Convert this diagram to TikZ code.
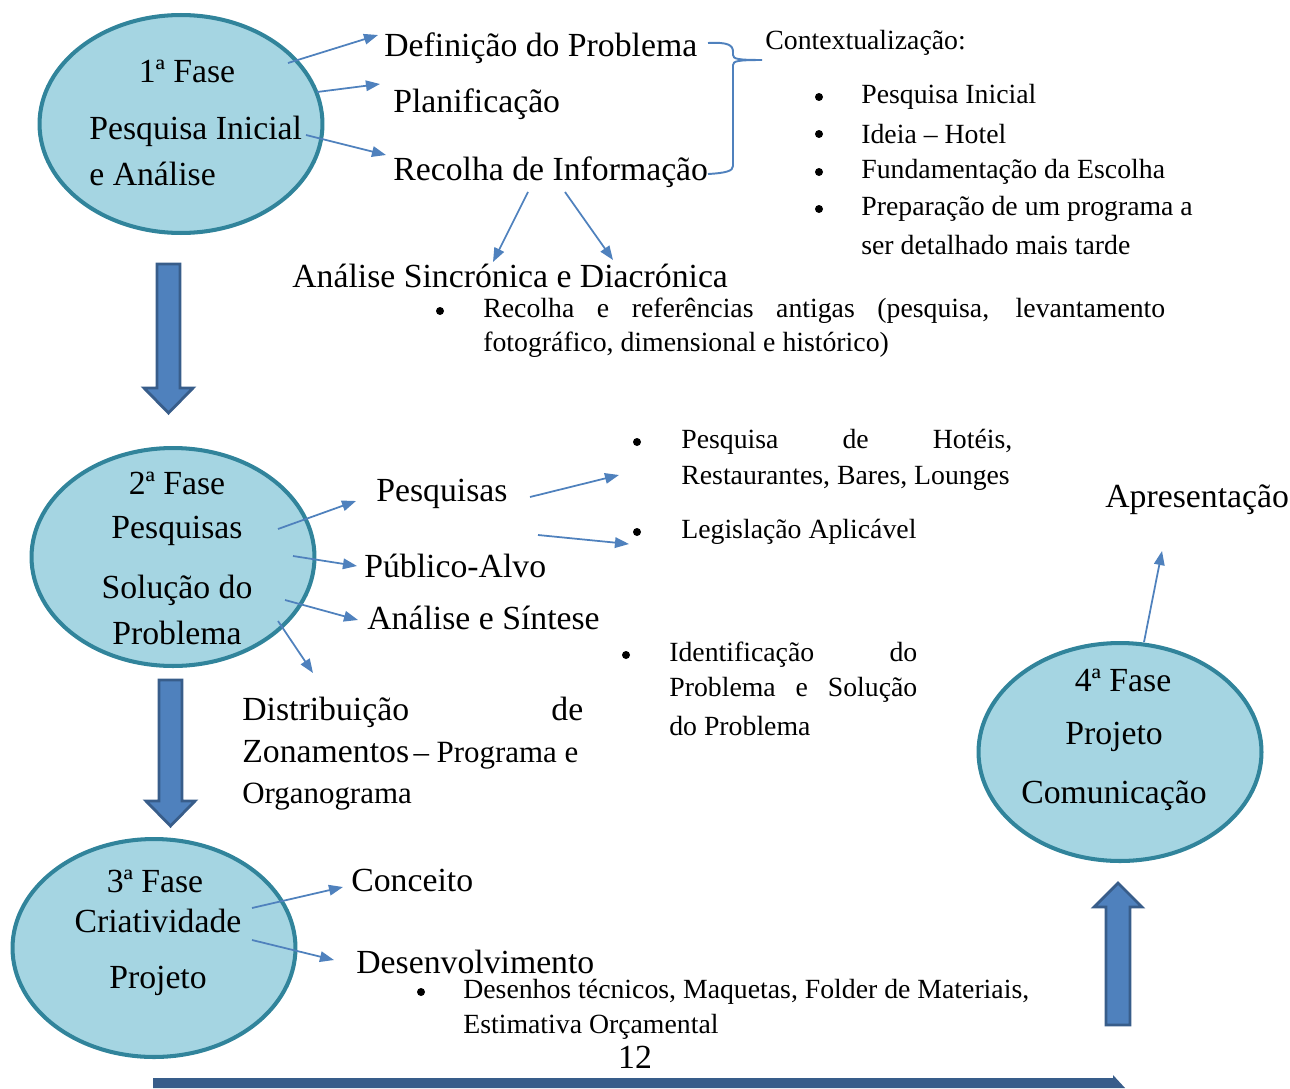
\documentclass[tikz,border=0pt]{standalone}
\usepackage{fontspec}
\setmainfont{Liberation Serif}
\usetikzlibrary{positioning,arrows.meta,calc,shapes.geometric}
\definecolor{fasefill}{HTML}{A5D5E2}
\definecolor{faseline}{HTML}{31849B}
\definecolor{linkblue}{HTML}{4F81BD}
\definecolor{blockline}{HTML}{385D8A}
\tikzset{
  fasebox/.style={ellipse, draw=faseline, fill=fasefill, line width=2.3pt, minimum width=5.66cm, minimum height=4.36cm},
  big/.style={font=\fontsize{19.2}{22}\selectfont, inner sep=0pt},
  sml/.style={font=\fontsize{15.8}{19}\selectfont, inner sep=0pt},
  mid/.style={font=\fontsize{17.6}{20}\selectfont, inner sep=0pt},
  dot/.style={circle, fill=black, inner sep=0pt, minimum size=0.16cm},
  link/.style={draw=linkblue, line width=1pt, -{Triangle[length=8pt,width=6pt]}},
  bigarrow/.style={draw=blockline, fill=linkblue, line width=1.6pt, line join=miter},
}
\begin{document}
\begin{tikzpicture}[x=0.02cm, y=-0.02cm]
\useasboundingbox (0,0) rectangle (1290,1088);
% fases
\node[fasebox] (fase1) at (181,124) {};
\node[fasebox] (fase2) at (173,557) {};
\node[fasebox] (fase3) at (154,948) {};
\node[fasebox] (fase4) at (1120,752) {};
\node[big] (f1t) at (187,71) {1ª Fase};
\node[big, anchor=west] (f1a) at (89,131) {Pesquisa Inicial};
\node[big, anchor=west] (f1b) at (89,174) {e Análise};
\node[big] (f2t) at (177,483) {2ª Fase};
\node[big] (f2a) at (177,531) {Pesquisas};
\node[big] (f2b) at (177,590) {Solução do};
\node[big] (f2c) at (177,633) {Problema};
\node[big] (f3t) at (155,881) {3ª Fase};
\node[big] (f3a) at (158,921) {Criatividade};
\node[big] (f3b) at (158,981) {Projeto};
\node[big] (f4t) at (1123,680) {4ª Fase};
\node[big] (f4a) at (1114,737) {Projeto};
\node[big] (f4b) at (1114,796) {Comunicação};
% setas grossas
\draw[bigarrow] (157,264) -- (180,264) -- (180,388) -- (193,388) -- (168.5,413) -- (144,388) -- (157,388) -- cycle;
\draw[bigarrow] (159,680) -- (182,680) -- (182,801) -- (195,801) -- (170.5,826) -- (146,801) -- (159,801) -- cycle;
\draw[bigarrow] (1106,1025) -- (1130,1025) -- (1130,907) -- (1142,907) -- (1118,883) -- (1094,907) -- (1106,907) -- cycle;
\fill[blockline] (153,1078) -- (1113,1078) -- (1113,1075) -- (1125,1088) -- (153,1088) -- cycle;
% 1a fase
\node[big, anchor=west] (def) at (384,48) {Definição do Problema};
\node[big, anchor=west] (plan) at (393,104) {Planificação};
\node[big, anchor=west] (recolha) at (393,172) {Recolha de Informação};
\coordinate (s1) at (288,63); \coordinate (e1) at (378,35);
\coordinate (s2) at (317,92); \coordinate (e2) at (380,84);
\coordinate (s3) at (306,135); \coordinate (e3) at (386,155);
\draw[link] (s1) -- (e1);
\draw[link] (s2) -- (e2);
\draw[link] (s3) -- (e3);
\draw[draw=linkblue, line width=1.1pt] (708,43) .. controls (728,42) and (733,45) .. (733,52) -- (733,55) .. controls (733,59) and (738,60) .. (762,60)
  .. controls (738,60) and (733,61) .. (733,65) -- (733,166) .. controls (733,171) and (726,173) .. (708,174);
\node[sml, anchor=west] (ctx) at (765,43) {Contextualização:};
\foreach \y/\txt [count=\i] in {97/Pesquisa Inicial, 134/Ideia – Hotel, 172/Fundamentação da Escolha, 209/Preparação de um programa a}{
  \node[dot] (cb\i) at (819,\y) {};
  \node[sml, anchor=west] (ct\i) at (861,\y) {\txt};
}
\node[sml, anchor=west] (ct5) at (861,245) {ser detalhado mais tarde};
\node[big, anchor=west] (sinc) at (292,276) {Análise Sincrónica e Diacrónica};
\coordinate (r1) at (528,192); \coordinate (r2) at (565,192);
\draw[link] (r1) -- (493,262);
\draw[link] (r2) -- (613,260);
\node[dot] (sb) at (440,311) {};
\node[sml, anchor=west] (st1) at (483,311) {\makebox[13.64cm][s]{Recolha e referências antigas (pesquisa, levantamento}};
\node[sml, anchor=west] (st2) at (483,345) {fotográfico, dimensional e histórico)};
% 2a fase
\node[big, anchor=west] (pesq) at (376,494) {Pesquisas};
\node[big, anchor=west] (pub) at (364,566) {Público-Alvo};
\node[big, anchor=west] (anal) at (367,618) {Análise e Síntese};
\coordinate (p1) at (278,529); \coordinate (p2) at (293,556);
\coordinate (p3) at (285,600); \coordinate (p4) at (278,621);
\draw[link] (p1) -- (356,501);
\draw[link] (p2) -- (357,566);
\draw[link] (p3) -- (358,620);
\draw[link] (p4) -- (313,673);
\node[big, anchor=west] (dist1) at (242,712) {\makebox[6.82cm][s]{Distribuição de}};
\node[anchor=west, inner sep=0pt] (dist2) at (242,755) {{\fontsize{19.2}{22}\selectfont Zonamentos} {\fontsize{17.6}{20}\selectfont – Programa e}};
\node[mid, anchor=west] (dist3) at (242,797) {Organograma};
\coordinate (q1) at (530,497); \coordinate (q2) at (538,535);
\draw[link] (q1) -- (619,475);
\draw[link] (q2) -- (629,544);
\node[dot] (hb1) at (637,442) {};
\node[sml, anchor=west] (ht1) at (681,442) {\makebox[6.62cm][s]{Pesquisa de Hotéis,}};
\node[sml, anchor=west] (ht2) at (681,478) {Restaurantes, Bares, Lounges};
\node[dot] (hb2) at (637,532) {};
\node[sml, anchor=west] (ht3) at (681,532) {Legislação Aplicável};
\node[dot] (ib) at (626,655) {};
\node[sml, anchor=west] (it1) at (669,655) {\makebox[4.96cm][s]{Identificação do}};
\node[sml, anchor=west] (it2) at (669,690) {\makebox[4.96cm][s]{Problema e Solução}};
\node[sml, anchor=west] (it3) at (669,726) {do Problema};
% 3a fase
\node[big, anchor=west] (conc) at (351,880) {Conceito};
\node[big, anchor=west] (desv) at (356,962) {Desenvolvimento};
\coordinate (c1) at (252,908); \coordinate (c2) at (252,940);
\draw[link] (c1) -- (343,887);
\draw[link] (c2) -- (334,960);
\node[dot] (db) at (421,992) {};
\node[sml, anchor=west] (dt1) at (463,992) {Desenhos técnicos, Maquetas, Folder de Materiais,};
\node[sml, anchor=west] (dt2) at (463,1027) {Estimativa Orçamental};
\node[big] (pag) at (635,1057) {12};
% 4a fase
\node[big, anchor=west] (apres) at (1105,500) {Apresentação};
\coordinate (a1) at (1144,642);
\draw[link] (a1) -- (1162,551);
\end{tikzpicture}
\end{document}
